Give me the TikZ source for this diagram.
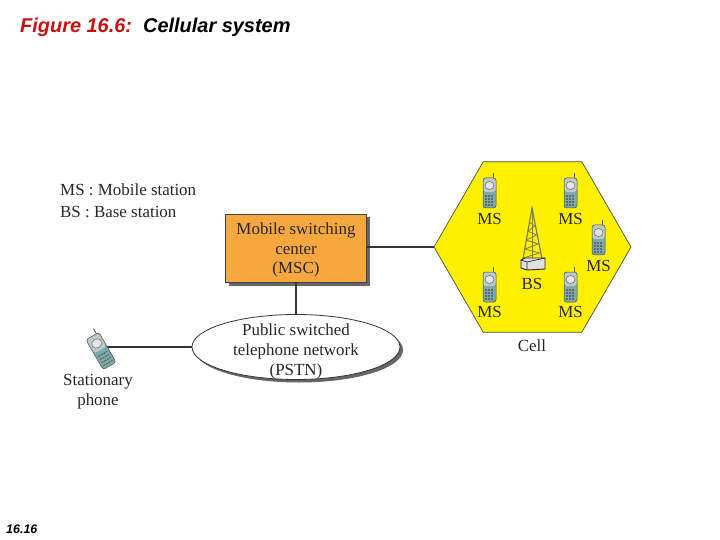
\documentclass[tikz,border=0pt]{standalone}
\usepackage{fontspec}
\setmainfont{Liberation Serif}
\newfontfamily\headfont{Liberation Sans}
\usetikzlibrary{shapes, shapes.geometric, shadows, positioning}
\definecolor{cellyellow}{RGB}{255,240,0}
\definecolor{mscorange}{RGB}{246,168,62}
\definecolor{titlered}{RGB}{200,16,16}
\definecolor{phonetop}{RGB}{190,200,200}
\definecolor{phonekeys}{RGB}{120,170,175}
\definecolor{towergrey}{RGB}{125,125,95}

\begin{document}
\begin{tikzpicture}[
    x=1bp, y=-1bp,
    label/.style={align=center, font=\fontsize{17}{20}\selectfont, text=black!85, inner sep=0pt},
    link/.style={draw=black!80, line width=1.3bp},
    msc/.style={rectangle, draw=black!75, fill=mscorange, minimum width=141bp, minimum height=68bp, line width=0.8bp, drop shadow={shadow xshift=3.5bp, shadow yshift=-3.5bp, fill=black!60, opacity=1}},
    pstn/.style={ellipse, draw=black!80, fill=white, minimum width=208bp, minimum height=65bp, inner sep=0pt, line width=0.8bp, drop shadow={shadow xshift=3bp, shadow yshift=-3bp, fill=black!60, opacity=1}},
    hexcell/.style={regular polygon, regular polygon sides=6, draw=black!70, fill=cellyellow, minimum size=197bp, inner sep=0pt, line width=0.7bp},
    handset/.pic={
        \draw[black!65, line width=0.8bp] (4,-14) -- (4,-20);
        \draw[black!70, fill=phonekeys, line width=0.5bp, rounded corners=2.5bp] (-6.5,-15) rectangle (6.5,15);
        \draw[draw=none, fill=phonetop, rounded corners=2.5bp] (-6,-14.5) rectangle (6,-1);
        \draw[black!60, fill=white!90!black, line width=0.5bp] (0,-7.5) ellipse (4.5 and 4);
        \foreach \py in {3,6,9,12} {
            \draw[black!60, line width=1.3bp, dash pattern=on 2bp off 1bp] (-4.5,\py) -- (4.5,\py);
        }
    }
]

\useasboundingbox (0,0) rectangle (720,540);

% Title and page number
\node[anchor=west, inner sep=0pt, font=\headfont\fontsize{20}{24}\selectfont\bfseries\itshape, text=titlered] (title) at (20,27) {Figure 16.6:};
\node[anchor=west, inner sep=0pt, font=\headfont\fontsize{20}{24}\selectfont\bfseries\itshape] (caption) at (143,27) {Cellular system};
\node[anchor=west, inner sep=0pt, font=\headfont\fontsize{12.5}{15}\selectfont\bfseries\itshape] (pagenum) at (6,529) {16.16};

% Legend
\node[label, anchor=west] (legendms) at (60,190) {MS : Mobile station};
\node[label, anchor=west] (legendbs) at (60,212) {BS : Base station};

% Network boxes
\node[msc] (switching) at (296,248) {};
\node[label] (switchinglabel) at (296,250) {Mobile switching\\center\\(MSC)};
\node[pstn] (network) at (296,347) {};
\node[label] (networklabel) at (296,351) {Public switched\\telephone network\\(PSTN)};
\node[hexcell] (cell) at (532.5,247) {};
\node[label] (celllabel) at (532,346) {Cell};

% Links
\draw[link] (switching.east |- cell.corner 3) -- (cell.corner 3);
\draw[link] (switching.south) -- (network.north);
\coordinate (phoneport) at (103,347);
\draw[link] (phoneport) -- (network.west);

% Stationary phone
\pic[rotate=30, scale=1.15] at (101,351) {handset};
\node[label] (stationary) at (98,392) {Stationary\\phone};

% Mobile stations
\foreach \mx/\my/\ly/\mname in {489.5/193/219/msa, 570.5/193/219/msb, 598.5/240/266/msc, 489.5/287/312/msd, 570.5/287/312/mse} {
    \pic at (\mx,\my) {handset};
    \node[label] (\mname) at (\mx,\ly) {MS};
}

% Base station
\coordinate (towertop) at (532,208);
\coordinate (towerleft) at (523,259);
\coordinate (towerright) at (542,259);
\draw[towergrey, line width=1.2bp] (towerleft) -- (towertop) -- (towerright);
\draw[towergrey, line width=0.8bp] (towertop) -- (532,258);
\foreach \ty/\tw in {222/3, 231/4.5, 240/6, 249/7.5} {
    \draw[towergrey, line width=0.8bp] (532-\tw,\ty) -- (532+\tw,\ty+4) -- (532-\tw-1,\ty+9);
}
\draw[black!85, fill=black!12, line width=0.9bp] (521,260) -- (525,258) -- (545,258) -- (545,269) -- (527,270) -- (521,268) -- cycle;
\draw[black!85, line width=0.7bp] (521,260) -- (527,262) -- (545,258) (527,262) -- (527,270);
\node[label] (bslabel) at (532,284) {BS};

\end{tikzpicture}
\end{document}
